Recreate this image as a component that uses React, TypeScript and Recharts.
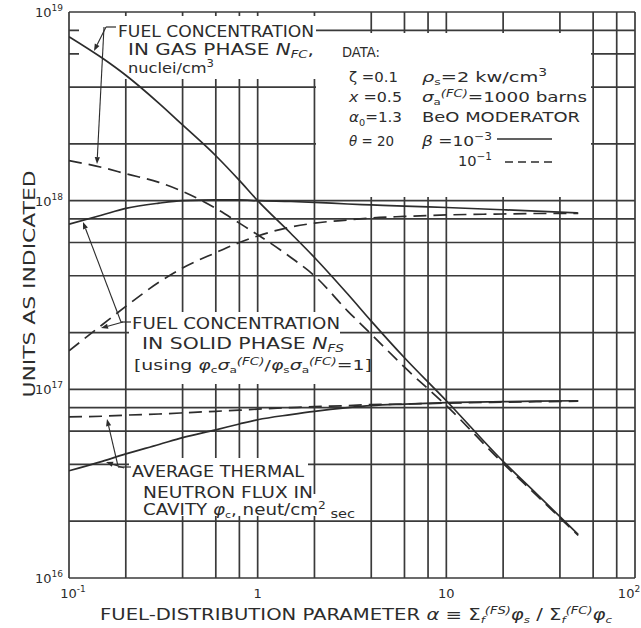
import { LineChart, Line, XAxis, YAxis, ReferenceLine } from "recharts";

// alpha = fuel-distribution parameter
const alpha = [0.1, 0.15, 0.2, 0.3, 0.4, 0.6, 0.8, 1, 1.5, 2, 3, 4, 6, 10, 20, 30, 50];

// N_FC, fuel concentration in gas phase
const gasSolid = [7.4e18, 5.7e18, 4.62e18, 3.28e18, 2.52e18, 1.73e18, 1.28e18, 1.0e18, 6.7e17, 5.0e17, 3.2e17, 2.3e17, 1.47e17, 8.7e16, 4.15e16, 2.8e16, 1.7e16];
const gasDashed = [1.63e18, 1.5e18, 1.39e18, 1.25e18, 1.12e18, 9.1e17, 7.6e17, 6.6e17, 5.0e17, 4.0e17, 2.6e17, 1.96e17, 1.31e17, 8.2e16, 4.05e16, 2.75e16, 1.68e16];

// N_FS, fuel concentration in solid phase
const solidSolid = [7.5e17, 8.4e17, 9.1e17, 9.7e17, 1.0e18, 1.01e18, 1.01e18, 1.0e18, 9.9e17, 9.8e17, 9.6e17, 9.5e17, 9.35e17, 9.2e17, 8.95e17, 8.8e17, 8.6e17];
const solidDashed = [1.6e17, 2.2e17, 2.75e17, 3.7e17, 4.4e17, 5.3e17, 6.0e17, 6.5e17, 7.25e17, 7.6e17, 7.9e17, 8.1e17, 8.25e17, 8.4e17, 8.5e17, 8.55e17, 8.55e17];

// average thermal neutron flux in cavity
const fluxSolid = [3.7e16, 4.15e16, 4.55e16, 5.1e16, 5.55e16, 6.1e16, 6.55e16, 6.9e16, 7.35e16, 7.65e16, 8.0e16, 8.2e16, 8.35e16, 8.5e16, 8.6e16, 8.65e16, 8.7e16];
const fluxDashed = [7.15e16, 7.2e16, 7.3e16, 7.4e16, 7.5e16, 7.65e16, 7.75e16, 7.85e16, 8.0e16, 8.1e16, 8.2e16, 8.3e16, 8.35e16, 8.45e16, 8.55e16, 8.6e16, 8.65e16];

const xDomain = [0.1, 100];
const yDomain = [1e16, 1e19];
const xTicks = [0.1, 0.2, 0.4, 0.6, 0.8, 1, 2, 4, 6, 8, 10, 20, 40, 60, 80, 100];
const yTicks = [
  1e16, 2e16, 4e16, 6e16, 8e16,
  1e17, 2e17, 4e17, 6e17, 8e17,
  1e18, 2e18, 4e18, 6e18, 8e18,
  1e19,
];
const xLabels: Record<string, [string, string]> = { "0.1": ["10", "-1"], "1": ["1", ""], "10": ["10", ""], "100": ["10", "2"] };
const yLabels: Record<string, [string, string]> = { "1e+16": ["10", "16"], "1e+17": ["10", "17"], "1e+18": ["10", "18"], "1e+19": ["10", "19"] };

const rows = alpha.map((a, i) => ({
  alpha: a,
  gasSolid: gasSolid[i],
  gasDashed: gasDashed[i],
  solidSolid: solidSolid[i],
  solidDashed: solidDashed[i],
  fluxSolid: fluxSolid[i],
  fluxDashed: fluxDashed[i],
}));

const W = 641;
const H = 628;
const INK = "#2c2c2c";
const GRID = "#3a3a3a";
const FONT = "'DejaVu Sans', sans-serif";
const DASH = "13 7";
const layer = { position: "absolute" as const, left: 0, top: 0 };

function XTick(props: any) {
  const lab = xLabels[String(props.payload.value)];
  if (!lab) return <g />;
  const shift = props.payload.value === 0.1 ? 4 : props.payload.value === 100 ? -6 : 0;
  return (
    <text x={props.x + shift} y={598} textAnchor="middle" fontFamily={FONT} fontSize={13} fill={INK}>
      {lab[0]}
      {lab[1] && <tspan fontSize={9} dy={-6}>{lab[1]}</tspan>}
    </text>
  );
}

function YTick(props: any) {
  const lab = yLabels[Number(props.payload.value).toExponential().replace(/\.0+e/, "e")];
  if (!lab) return <g />;
  return (
    <text x={63} y={props.y + 5} textAnchor="end" fontFamily={FONT} fontSize={13} fill={INK}>
      {lab[0]}
      <tspan fontSize={9} dy={-6}>{lab[1]}</tspan>
    </text>
  );
}

function T({ x, y, w, size = 15, children }: any) {
  return (
    <text x={x} y={y} fontFamily={FONT} fontSize={size} fill={INK} textLength={w} lengthAdjust="spacingAndGlyphs">
      {children}
    </text>
  );
}

// white boxes over the grid behind the lettering, then the lettering itself
function Notes() {
  const boxes = [
    [79, 16, 316, 79],
    [316, 33, 591, 197],
    [129, 312, 340, 384],
    [340, 345, 368, 384],
    [129, 458, 308, 516],
    [308, 494, 362, 516],
  ];
  return (
    <svg width={W} height={H} style={{ ...layer, pointerEvents: "none" }}>
      {boxes.map(([x1, y1, x2, y2], i) => (
        <rect key={i} x={x1} y={y1} width={x2 - x1} height={y2 - y1} fill="#fff" />
      ))}

      <T x={118} y={37} w={196}>FUEL CONCENTRATION</T>
      <T x={128} y={55} w={186}>
        IN GAS PHASE <tspan fontStyle="italic">N</tspan>
        <tspan fontStyle="italic" fontSize={10} dy={3}>FC</tspan>
        <tspan dy={-3}>,</tspan>
      </T>
      <T x={128} y={73} w={86} size={14}>
        nuclei/cm<tspan fontSize={10} dy={-6}>3</tspan>
      </T>

      <T x={342} y={57} w={38} size={14}>DATA:</T>
      <T x={349} y={82} w={49} size={14}>ζ =0.1</T>
      <T x={422} y={82} w={125} size={14}>
        <tspan fontStyle="italic">ρ</tspan>
        <tspan fontSize={9} dy={3}>s</tspan>
        <tspan dy={-3}>=2 kw/cm</tspan>
        <tspan fontSize={10} dy={-6}>3</tspan>
      </T>
      <T x={349} y={102} w={53} size={14}>
        <tspan fontStyle="italic">x</tspan> =0.5
      </T>
      <T x={422} y={102} w={165} size={14}>
        <tspan fontStyle="italic">σ</tspan>
        <tspan fontSize={9} dy={3}>a</tspan>
        <tspan fontSize={10} fontStyle="italic" dy={-8}>(FC)</tspan>
        <tspan dy={5}>=1000 barns</tspan>
      </T>
      <T x={349} y={122} w={53} size={14}>
        <tspan fontStyle="italic">α</tspan>
        <tspan fontSize={9} dy={4}>0</tspan>
        <tspan dy={-4}>=1.3</tspan>
      </T>
      <T x={422} y={122} w={158} size={14}>BeO MODERATOR</T>
      <T x={349} y={146} w={45} size={14}>
        <tspan fontStyle="italic">θ</tspan> = 20
      </T>
      <T x={422} y={146} w={70} size={14}>
        <tspan fontStyle="italic">β</tspan> =10<tspan fontSize={10} dy={-6}>−3</tspan>
      </T>
      <line x1={497} y1={139} x2={552} y2={139} stroke={INK} strokeWidth={1.6} />
      <T x={458} y={166} w={34} size={14}>
        10<tspan fontSize={10} dy={-6}>−1</tspan>
      </T>
      <line x1={505} y1={162} x2={552} y2={162} stroke={INK} strokeWidth={1.6} strokeDasharray="8 5" />

      <T x={132} y={329} w={208}>FUEL CONCENTRATION</T>
      <T x={142} y={349} w={202}>
        IN SOLID PHASE <tspan fontStyle="italic">N</tspan>
        <tspan fontStyle="italic" fontSize={10} dy={3}>FS</tspan>
      </T>
      <T x={134} y={370} w={238} size={14}>
        [using <tspan fontStyle="italic">φ</tspan>
        <tspan fontSize={9} dy={3}>c</tspan>
        <tspan fontStyle="italic" dy={-3}>σ</tspan>
        <tspan fontSize={9} dy={3}>a</tspan>
        <tspan fontSize={10} fontStyle="italic" dy={-8}>(FC)</tspan>
        <tspan dy={5}>/</tspan>
        <tspan fontStyle="italic">φ</tspan>
        <tspan fontSize={9} dy={3}>s</tspan>
        <tspan fontStyle="italic" dy={-3}>σ</tspan>
        <tspan fontSize={9} dy={3}>a</tspan>
        <tspan fontSize={10} fontStyle="italic" dy={-8}>(FC)</tspan>
        <tspan dy={5}>=1]</tspan>
      </T>

      <T x={132} y={477} w={172}>AVERAGE THERMAL</T>
      <T x={143} y={498} w={170}>NEUTRON FLUX IN</T>
      <T x={143} y={515} w={212}>
        CAVITY <tspan fontStyle="italic">φ</tspan>
        <tspan fontSize={9} dy={3}>c</tspan>
        <tspan dy={-3}>, neut/cm</tspan>
        <tspan fontSize={10} dy={-6}>2</tspan>
        <tspan fontSize={12} dy={9}> sec</tspan>
      </T>

      <text
        transform="translate(35,284) rotate(-90)"
        textAnchor="middle"
        fontFamily={FONT}
        fontSize={15}
        fill={INK}
        textLength={227}
        lengthAdjust="spacingAndGlyphs"
      >
        UNITS AS INDICATED
      </text>
      <T x={100} y={620} w={512}>
        FUEL-DISTRIBUTION PARAMETER <tspan fontStyle="italic">α</tspan> ≡ Σ
        <tspan fontSize={9} fontStyle="italic" dy={3}>f</tspan>
        <tspan fontSize={10} fontStyle="italic" dy={-9}>(FS)</tspan>
        <tspan fontStyle="italic" dy={6}>φ</tspan>
        <tspan fontSize={9} fontStyle="italic" dy={3}>s</tspan>
        <tspan dy={-3}> / Σ</tspan>
        <tspan fontSize={9} fontStyle="italic" dy={3}>f</tspan>
        <tspan fontSize={10} fontStyle="italic" dy={-9}>(FC)</tspan>
        <tspan fontStyle="italic" dy={6}>φ</tspan>
        <tspan fontSize={9} fontStyle="italic" dy={3}>c</tspan>
      </T>
    </svg>
  );
}

// leader lines with arrowheads from the labels to the curves
function Arrow({ from, to }: { from: [number, number]; to: [number, number] }) {
  const [x1, y1] = from;
  const [x2, y2] = to;
  const a = Math.atan2(y2 - y1, x2 - x1);
  const L = 7;
  const h = 2.6;
  const bx = x2 - L * Math.cos(a);
  const by = y2 - L * Math.sin(a);
  const pts = [
    [x2, y2],
    [bx + h * Math.sin(a), by - h * Math.cos(a)],
    [bx - h * Math.sin(a), by + h * Math.cos(a)],
  ];
  return (
    <g>
      <line x1={x1} y1={y1} x2={bx} y2={by} stroke={INK} strokeWidth={1.1} />
      <polygon points={pts.map((p) => p.join(",")).join(" ")} fill={INK} />
    </g>
  );
}

function Leaders() {
  return (
    <svg width={W} height={H} style={{ ...layer, pointerEvents: "none" }}>
      <polyline points="116,27 106,27" stroke={INK} strokeWidth={1.2} fill="none" />
      <Arrow from={[106, 27]} to={[94, 51]} />
      <Arrow from={[104, 27]} to={[97, 164]} />
      <polyline points="131,322 121,322" stroke={INK} strokeWidth={1.2} fill="none" />
      <Arrow from={[121, 322]} to={[83, 222]} />
      <Arrow from={[123, 322]} to={[101, 328]} />
      <polyline points="131,467 118,467" stroke={INK} strokeWidth={1.2} fill="none" />
      <Arrow from={[118, 466]} to={[107, 419]} />
      <Arrow from={[124, 468]} to={[106, 462]} />
    </svg>
  );
}

export default function App() {
  const series = [
    { key: "gasSolid", dash: undefined },
    { key: "gasDashed", dash: DASH },
    { key: "solidSolid", dash: undefined },
    { key: "solidDashed", dash: DASH },
    { key: "fluxDashed", dash: DASH },
    { key: "fluxSolid", dash: undefined },
  ];
  return (
    <div style={{ ...layer, width: W, height: H, background: "#fff" }}>
      {/* bottom layer: axes labels and the grid */}
      <div style={layer}>
        <LineChart width={W} height={H} data={rows} margin={{ top: 12, right: 6, bottom: 0, left: 9 }}>
          <XAxis
            dataKey="alpha"
            type="number"
            scale="log"
            domain={xDomain}
            ticks={xTicks}
            interval={0}
            allowDataOverflow
            height={50}
            tickLine={false}
            axisLine={false}
            tick={XTick}
          />
          <YAxis
            type="number"
            scale="log"
            domain={yDomain}
            ticks={yTicks}
            interval={0}
            allowDataOverflow
            width={60}
            tickLine={false}
            axisLine={false}
            tick={YTick}
          />
          {yTicks.map((v) => (
            <ReferenceLine key={"h" + v} y={v} stroke={GRID} strokeWidth={1.7} />
          ))}
          {xTicks.map((v) => (
            <ReferenceLine key={"v" + v} x={v} stroke={GRID} strokeWidth={1.7} />
          ))}
        </LineChart>
      </div>

      {/* lettering blanks out the grid behind it */}
      <Notes />

      {/* top layer: the curves, same plot area */}
      <div style={layer}>
        <LineChart width={W} height={H} data={rows} margin={{ top: 12, right: 6, bottom: 50, left: 69 }}>
          <XAxis dataKey="alpha" type="number" scale="log" domain={xDomain} allowDataOverflow hide />
          <YAxis type="number" scale="log" domain={yDomain} allowDataOverflow hide />
          {series.map((s) => (
            <Line
              key={s.key}
              dataKey={s.key}
              type="monotone"
              stroke={INK}
              strokeWidth={1.7}
              strokeDasharray={s.dash}
              dot={false}
              activeDot={false}
              isAnimationActive={false}
            />
          ))}
        </LineChart>
      </div>

      <Leaders />
    </div>
  );
}
